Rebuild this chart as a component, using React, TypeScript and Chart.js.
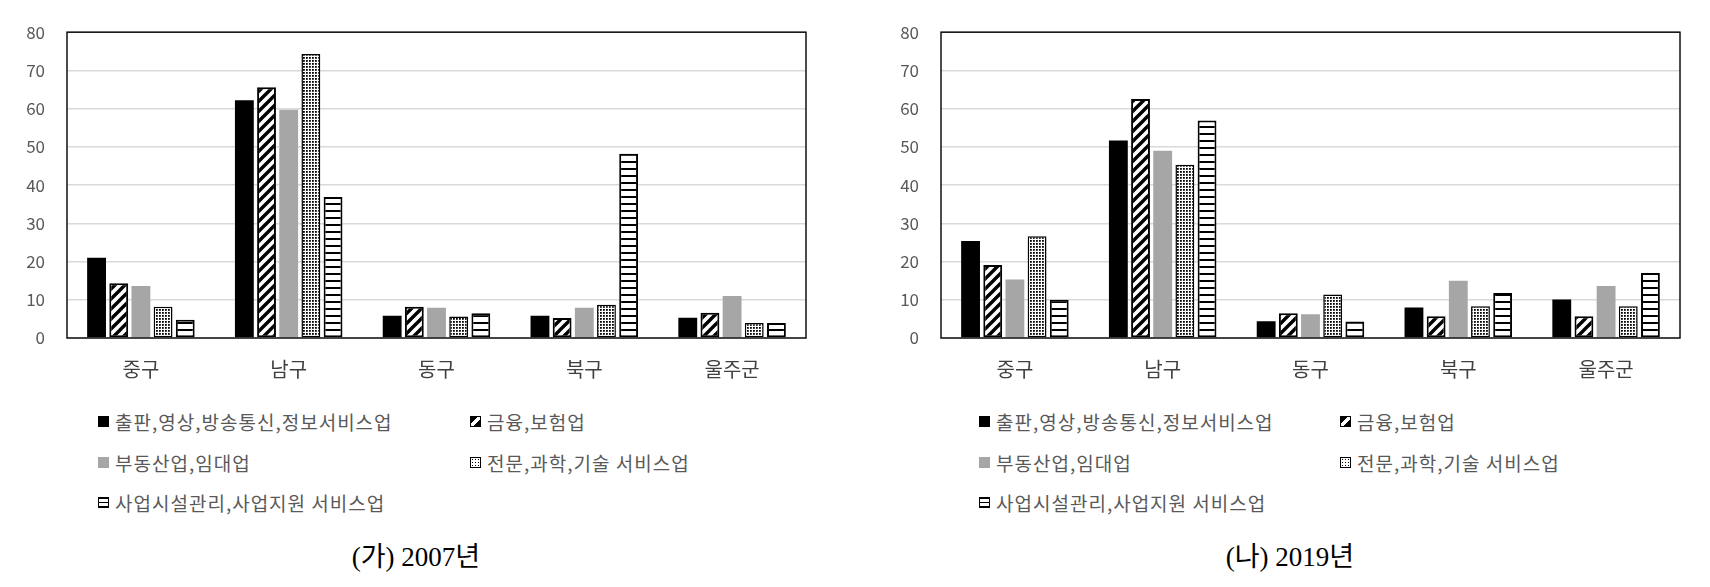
import { useEffect, useRef } from 'react';
import { Chart, registerables } from 'chart.js';

Chart.register(...registerables);

const districts = ['중구', '남구', '동구', '북구', '울주군'];
const seriesNames = [
  '출판,영상,방송통신,정보서비스업',
  '금융,보험업',
  '부동산업,임대업',
  '전문,과학,기술 서비스업',
  '사업시설관리,사업지원 서비스업',
];
const yTicks = [0, 10, 20, 30, 40, 50, 60, 70, 80];

// 2007
const publishing2007 = [21.0, 62.2, 5.8, 5.8, 5.3];
const finance2007 = [14.3, 65.6, 8.2, 5.2, 6.6];
const realEstate2007 = [13.6, 59.7, 7.9, 7.9, 11.0];
const science2007 = [8.2, 74.3, 5.6, 8.7, 3.9];
const facility2007 = [4.8, 36.9, 6.5, 48.2, 3.9];

// 2019
const publishing2019 = [25.4, 51.7, 4.4, 8.0, 10.1];
const finance2019 = [19.1, 62.5, 6.5, 5.7, 5.7];
const realEstate2019 = [15.3, 49.0, 6.2, 15.0, 13.6];
const science2019 = [26.6, 45.3, 11.4, 8.3, 8.3];
const facility2019 = [10.0, 56.9, 4.3, 11.8, 17.0];

const FONT = '"Noto Sans CJK KR", "Noto Sans", sans-serif';

function makePattern(kind: string): CanvasPattern | string {
  if (kind === 'black') return '#000000';
  if (kind === 'gray') return '#a6a6a6';
  const c = document.createElement('canvas');
  const ctx = c.getContext('2d')!;
  if (kind === 'diag') {
    c.width = 10;
    c.height = 10;
    ctx.fillStyle = '#fff';
    ctx.fillRect(0, 0, 10, 10);
    ctx.strokeStyle = '#000';
    ctx.lineWidth = 3.4;
    ctx.beginPath();
    ctx.moveTo(-5, 5);
    ctx.lineTo(5, -5);
    ctx.moveTo(0, 10);
    ctx.lineTo(10, 0);
    ctx.moveTo(5, 15);
    ctx.lineTo(15, 5);
    ctx.stroke();
  } else if (kind === 'dots') {
    c.width = 3;
    c.height = 3;
    ctx.fillStyle = '#fff';
    ctx.fillRect(0, 0, 3, 3);
    ctx.fillStyle = '#000';
    ctx.fillRect(0, 0, 1.8, 1.8);
  } else {
    c.width = 7;
    c.height = 7;
    ctx.fillStyle = '#fff';
    ctx.fillRect(0, 0, 7, 7);
    ctx.fillStyle = '#000';
    ctx.fillRect(0, 0, 7, 2);
  }
  return ctx.createPattern(c, 'repeat')!;
}

const fills = ['black', 'diag', 'gray', 'dots', 'hlines'];
const borders = [0, 2, 0, 1.5, 2];

const swatchStyles: React.CSSProperties[] = [
  { background: '#000' },
  {
    border: '1.5px solid #000',
    background: 'linear-gradient(135deg, #000 0 38%, #fff 38% 62%, #000 62%)',
  },
  { background: '#a6a6a6' },
  {
    border: '1.5px solid #000',
    background: 'radial-gradient(#000 40%, #fff 45%) 0 0 / 3px 3px',
  },
  {
    border: '1.5px solid #000',
    background: 'repeating-linear-gradient(#000 0 1.5px, #fff 1.5px 4px)',
  },
];

const framePlugin = {
  id: 'frame',
  afterDatasetsDraw(chart: Chart) {
    const { ctx, chartArea } = chart;
    ctx.save();
    ctx.strokeStyle = '#111';
    ctx.lineWidth = 1.5;
    ctx.strokeRect(chartArea.left, chartArea.top, chartArea.right - chartArea.left, chartArea.bottom - chartArea.top);
    ctx.restore();
  },
};

interface PanelProps {
  left: number;
  series: number[][];
  caption: string;
  legendCol1: number;
  legendCol2: number;
}

function Panel({ left, series, caption, legendCol1, legendCol2 }: PanelProps) {
  const chartRef = useRef<HTMLCanvasElement>(null);
  const chartInstance = useRef<Chart | null>(null);

  useEffect(() => {
    if (!chartRef.current) return;
    if (chartInstance.current) chartInstance.current.destroy();
    const ctx = chartRef.current.getContext('2d');
    if (!ctx) return;

    chartInstance.current = new Chart(ctx, {
      type: 'bar',
      data: {
        labels: districts,
        datasets: series.map((data, i) => ({
          label: seriesNames[i],
          data,
          backgroundColor: makePattern(fills[i]) as any,
          borderColor: '#000',
          borderWidth: borders[i],
          borderSkipped: false,
          categoryPercentage: 0.75,
          barPercentage: 0.85,
        })),
      },
      options: {
        animation: false,
        responsive: false,
        devicePixelRatio: 1,
        layout: { padding: { top: 30, right: 30, left: 0, bottom: 0 } },
        plugins: {
          legend: { display: false },
          tooltip: { enabled: false },
        },
        scales: {
          x: {
            grid: { display: false, drawTicks: false },
            border: { display: false },
            ticks: { color: '#404040', font: { family: FONT, size: 20 }, padding: 19 },
            afterFit: (s: any) => {
              s.height = 52;
            },
          },
          y: {
            min: 0,
            max: 80,
            afterBuildTicks: (s: any) => {
              s.ticks = yTicks.map((v) => ({ value: v }));
            },
            ticks: { color: '#595959', font: { family: FONT, size: 17 }, padding: 22 },
            grid: { color: '#d9d9d9', lineWidth: 1.5, drawTicks: false },
            border: { display: false },
            afterFit: (s: any) => {
              s.width = 67;
            },
          },
        },
      },
      plugins: [framePlugin],
    });

    return () => {
      if (chartInstance.current) {
        chartInstance.current.destroy();
        chartInstance.current = null;
      }
    };
  }, [series]);

  const rows = [
    [0, 1],
    [2, 3],
    [4],
  ];
  const rowTops = [410, 451, 491];

  return (
    <div style={{ position: 'absolute', left, top: 0, width: 836, height: 587 }}>
      <canvas ref={chartRef} width={836} height={390} style={{ position: 'absolute', left: 0, top: 0 }} />
      {rows.map((row, r) =>
        row.map((si, c) => (
          <div
            key={si}
            style={{
              position: 'absolute',
              left: c === 0 ? legendCol1 : legendCol2,
              top: rowTops[r],
              height: 22,
              display: 'flex',
              alignItems: 'center',
              whiteSpace: 'nowrap',
              fontFamily: FONT,
              fontSize: 19,
              letterSpacing: 1,
              color: '#595959',
            }}
          >
            <span
              style={{
                display: 'inline-block',
                width: 11,
                height: 11,
                boxSizing: 'border-box',
                marginRight: 6,
                ...swatchStyles[si],
              }}
            />
            {seriesNames[si]}
          </div>
        ))
      )}
      <div
        style={{
          position: 'absolute',
          left: 0,
          top: 540,
          width: 832,
          textAlign: 'center',
          fontFamily: '"Liberation Serif", "Noto Sans CJK KR", serif',
          fontSize: 27,
          lineHeight: '34px',
          color: '#000',
        }}
      >
        {caption}
      </div>
    </div>
  );
}

export default function App() {
  return (
    <div style={{ position: 'absolute', left: 0, top: 0, width: 1710, height: 587, background: '#fff', overflow: 'hidden' }}>
      <Panel
        left={0}
        series={[publishing2007, finance2007, realEstate2007, science2007, facility2007]}
        caption="(가) 2007년"
        legendCol1={98}
        legendCol2={470}
      />
      <Panel
        left={874}
        series={[publishing2019, finance2019, realEstate2019, science2019, facility2019]}
        caption="(나) 2019년"
        legendCol1={105}
        legendCol2={466}
      />
    </div>
  );
}
